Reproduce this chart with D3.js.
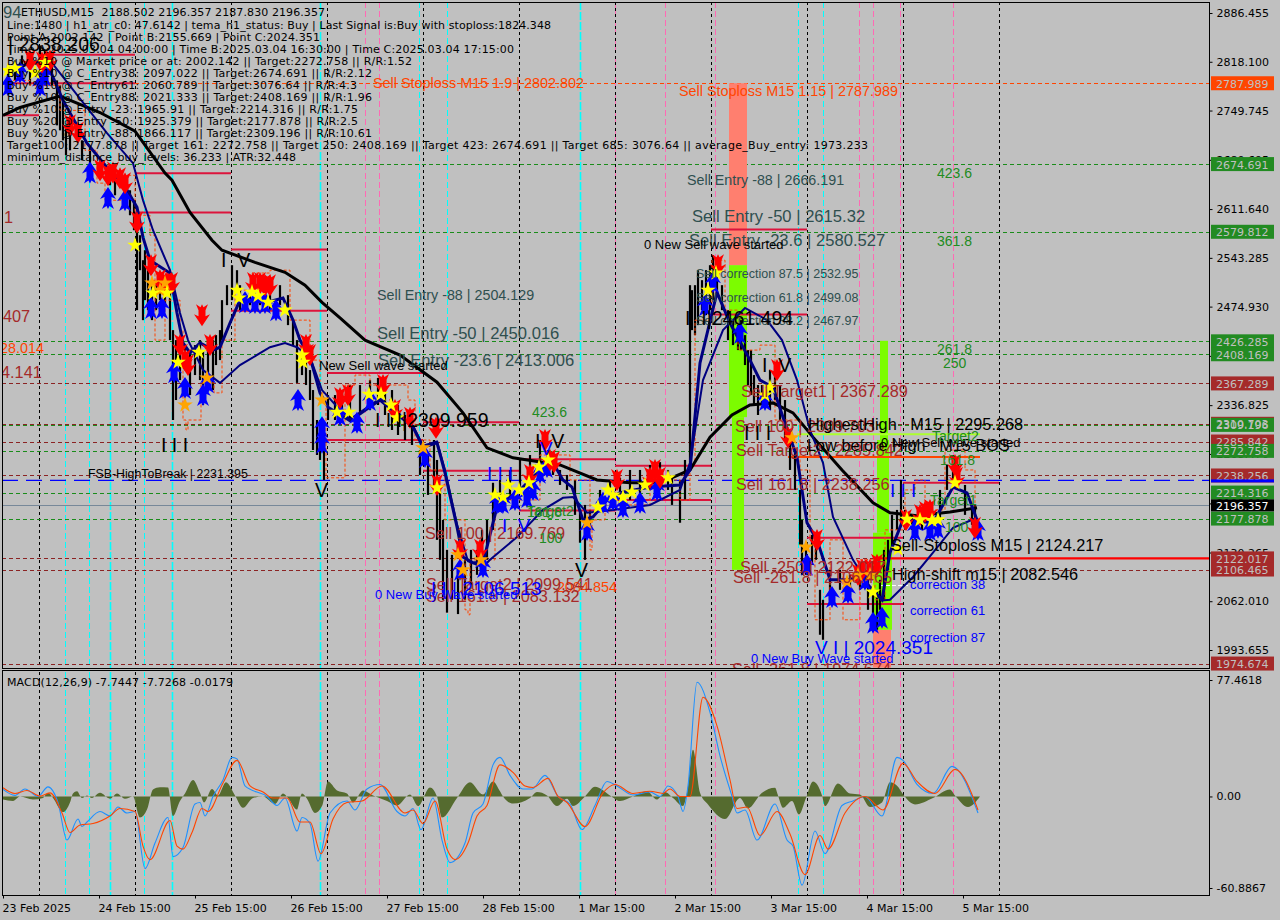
<!DOCTYPE html>
<html><head><meta charset="utf-8"><style>
html,body{margin:0;padding:0;background:#c0c0c0}svg{display:block}
</style><script src="https://cdn.jsdelivr.net/npm/d3@7"></script></head><body><svg id="c" width="1280" height="920"></svg>
<script>
const priceTicks=[2886.455,2818.100,2749.745,2680.695,2611.640,2543.285,2474.930,2405.875,2336.825,2268.470,2199.115,2130.265,2062.010,1993.655];
const macdTicks=[77.4618,0,-60.8867];
const macdTickLabels=["77.4618","0.00","-60.8867"];
const dateLabels=["23 Feb 2025","24 Feb 15:00","25 Feb 15:00","26 Feb 15:00","27 Feb 15:00","28 Feb 15:00","1 Mar 15:00","2 Mar 15:00","3 Mar 15:00","4 Mar 15:00","5 Mar 15:00"];
const dateBars=[0,96,192,288,384,480,576,672,768,864,960];
const daySeparators=[36,132,228,324,420,516,612,708,804,900,996];
const cyanLines=[[62,0],[86,0],[107,1],[141,0],[169,1],[317,1],[416,0],[444,0],[577,1],[795,0],[820,0]];
const pinkLines=[362,376,612,662,712,856,870,897,950];
const priceLabels=[[2787.989,"orange"],[2674.691,"green"],[2579.812,"green"],[2426.285,"green"],[2408.169,"green"],[2367.289,"brown"],[2310.703,"brown"],[2309.196,"green"],[2285.842,"brown"],[2272.758,"green"],[2238.256,"brown"],[2214.316,"green"],[2177.878,"green"],[2122.017,"brown"],[2106.465,"brown"],[1974.674,"brown"]];
const currentPrice=2196.357, breakLevel=2231.395;
const zoneRects=[[726,744,2787.989,2533,"salmon"],[726,744,2533,2320,"lime"],[729,741,2320,2106,"lime"],[870,888,2022,1969,"salmon"],[877,885,2427,2288,"lime"],[874,886,2288,2158,"lime"],[870,889,2158,2022,"lime"]];
const crimsonSegments=[[36,132,2828],[-1,132,2788],[-1,36,2743],[132,228,2662],[132,228,2607],[228,324,2555],[228,324,2469],[324,420,2382],[324,420,2288],[420,516,2313],[420,516,2245],[516,612,2261],[516,612,2189],[612,708,2252],[612,708,2204],[708,804,2583],[708,804,2464],[804,900,2151],[804,900,2058],[900,996,2228]];
const strongLevels=[[875,1206,2122.017,"#ff0000",2.4],[785,977,2264,"#ff4500",2],[794,977,2296,"#adff2f",2]];
const wicks=[[5,2813,2785],[12,2820,2792],[19,2827,2795],[27,2823,2785],[37,2841,2799],[42,2834,2792],[49,2827,2785],[54,2792,2729],[57,2785,2722],[60,2764,2708],[63,2729,2687],[67,2722,2694],[79,2708,2680],[87,2697,2673],[97,2680,2659],[107,2666,2645],[112,2659,2631],[122,2652,2624],[127,2638,2603],[131,2624,2582],[134,2582,2470],[137,2575,2526],[140,2540,2456],[142,2554,2484],[145,2526,2470],[149,2512,2456],[153,2505,2470],[157,2512,2484],[162,2505,2477],[167,2498,2428],[170,2442,2316],[173,2428,2344],[177,2428,2372],[182,2421,2386],[187,2414,2351],[192,2421,2379],[197,2428,2372],[200,2414,2337],[205,2428,2358],[210,2428,2358],[213,2435,2393],[217,2442,2400],[219,2484,2428],[224,2505,2477],[229,2533,2484],[234,2526,2498],[237,2505,2470],[247,2498,2477],[257,2505,2477],[267,2505,2470],[277,2505,2477],[285,2491,2449],[290,2456,2421],[294,2428,2368],[299,2414,2379],[303,2407,2365],[307,2386,2344],[310,2358,2274],[314,2316,2267],[317,2316,2260],[321,2295,2232],[325,2351,2316],[332,2351,2316],[339,2358,2330],[347,2365,2316],[357,2365,2323],[367,2372,2330],[375,2375,2337],[382,2372,2323],[389,2358,2302],[395,2337,2295],[402,2323,2288],[409,2309,2281],[417,2274,2239],[425,2267,2211],[431,2288,2218],[434,2260,2148],[437,2218,2120],[440,2176,2064],[444,2134,2046],[449,2127,2064],[455,2106,2044],[462,2120,2064],[468,2134,2085],[474,2134,2099],[479,2162,2113],[484,2176,2120],[490,2228,2162],[497,2232,2197],[507,2246,2204],[517,2260,2218],[527,2267,2232],[537,2288,2253],[545,2274,2246],[550,2267,2239],[557,2246,2225],[564,2239,2218],[572,2232,2183],[577,2190,2144],[582,2197,2120],[587,2190,2162],[597,2218,2190],[607,2232,2204],[617,2235,2197],[627,2246,2204],[637,2246,2211],[647,2253,2218],[657,2257,2218],[665,2246,2218],[669,2235,2197],[677,2232,2172],[682,2260,2204],[687,2505,2246],[689,2498,2442],[692,2505,2435],[695,2526,2449],[699,2512,2470],[703,2526,2463],[707,2533,2470],[710,2547,2484],[714,2540,2491],[719,2505,2470],[725,2470,2428],[730,2456,2421],[735,2449,2414],[738,2456,2414],[742,2435,2393],[745,2414,2365],[748,2414,2351],[751,2379,2337],[755,2365,2323],[759,2365,2337],[767,2386,2330],[772,2379,2344],[777,2365,2316],[782,2344,2288],[787,2302,2246],[792,2274,2218],[797,2218,2141],[799,2176,2099],[803,2141,2099],[809,2155,2113],[813,2141,2120],[817,2078,2015],[820,2064,2008],[827,2106,2064],[837,2106,2078],[847,2099,2071],[857,2099,2078],[865,2106,2050],[870,2078,2029],[874,2078,2022],[877,2092,2050],[881,2134,2064],[885,2148,2106],[889,2183,2134],[894,2190,2162],[898,2232,2169],[902,2190,2162],[909,2183,2162],[919,2190,2162],[929,2190,2162],[937,2218,2176],[944,2253,2218],[950,2267,2232],[955,2253,2218],[962,2225,2183],[969,2197,2169],[972,2197,2155]];
const slowAverage=[[0,2743],[17,2754],[57,2770],[97,2747],[132,2721],[162,2662],[169,2652],[187,2607],[209,2568],[219,2554],[252,2537],[282,2523],[302,2505],[319,2481],[337,2459],[362,2428],[397,2407],[434,2369],[460,2326],[484,2277],[510,2263],[557,2253],[594,2232],[627,2228],[657,2228],[687,2246],[707,2292],[729,2323],[747,2337],[770,2340],[790,2326],[810,2292],[839,2246],[870,2200],[887,2186],[914,2182],[947,2187],[974,2193]];
const fastTema=[[2,2806],[17,2812],[32,2817],[44,2816],[60,2764],[84,2704],[104,2670],[120,2648],[134,2614],[140,2572],[147,2540],[167,2522],[174,2466],[180,2424],[187,2410],[197,2424],[210,2414],[217,2418],[227,2452],[237,2484],[264,2481],[280,2487],[290,2456],[297,2428],[307,2404],[317,2354],[325,2334],[347,2315],[377,2344],[410,2306],[420,2278],[434,2284],[442,2242],[454,2166],[460,2124],[470,2116],[480,2116],[494,2194],[507,2208],[520,2222],[540,2250],[550,2256],[560,2232],[569,2222],[580,2176],[590,2180],[604,2204],[617,2214],[647,2222],[677,2225],[687,2246],[697,2396],[714,2495],[727,2452],[747,2400],[757,2372],[770,2362],[780,2320],[794,2264],[804,2172],[814,2148],[827,2092],[844,2092],[857,2095],[867,2082],[879,2064],[887,2130],[900,2176],[930,2172],[950,2222],[964,2214],[974,2176]];
const hourlyTema=[[47,2820],[104,2718],[130,2676],[140,2624],[150,2582],[167,2526],[177,2466],[185,2428],[200,2386],[217,2368],[237,2393],[267,2418],[282,2424],[294,2418],[307,2404],[319,2358],[337,2330],[347,2317],[377,2346],[410,2308],[420,2280],[434,2286],[442,2246],[454,2170],[465,2118],[480,2110],[487,2120],[514,2152],[540,2190],[560,2207],[570,2208],[584,2186],[610,2190],[647,2197],[677,2218],[687,2256],[700,2372],[720,2442],[742,2473],[764,2456],[779,2428],[794,2372],[807,2302],[820,2256],[830,2180],[850,2120],[867,2082],[879,2063],[887,2064],[910,2096],[930,2130],[950,2165],[974,2179]];
const stairLine=[[5,2792],[27,2785],[57,2750],[82,2694],[94,2648],[102,2624],[122,2659],[132,2603],[147,2575],[152,2428],[162,2484],[177,2442],[180,2316],[183,2302],[185,2316],[198,2368],[211,2354],[219,2428],[232,2498],[249,2522],[267,2526],[287,2456],[303,2456],[307,2400],[317,2354],[323,2235],[342,2365],[352,2379],[367,2365],[405,2344],[412,2288],[427,2246],[442,2176],[462,2050],[465,2043],[467,2120],[492,2204],[537,2267],[567,2232],[587,2134],[589,2176],[602,2197],[647,2232],[677,2204],[687,2260],[692,2456],[709,2540],[722,2470],[735,2414],[757,2421],[772,2316],[797,2246],[807,2148],[812,2036],[827,2148],[840,2036],[857,2120],[872,2064],[882,2162],[902,2218],[912,2232],[922,2190],[942,2274],[962,2246],[972,2190]];
const sellArrows=[[27,2820],[39,2817],[47,2820],[67,2729],[75,2719],[97,2666],[105,2659],[110,2663],[117,2655],[122,2648],[134,2593],[148,2533],[157,2512],[163,2508],[169,2508],[177,2421],[182,2400],[185,2393],[199,2463],[207,2421],[250,2508],[257,2508],[262,2505],[267,2505],[303,2421],[307,2407],[337,2347],[345,2351],[380,2365],[392,2330],[407,2319],[433,2305],[434,2225],[457,2134],[477,2134],[527,2239],[542,2288],[547,2260],[551,2257],[614,2232],[647,2235],[652,2246],[657,2235],[715,2533],[774,2386],[785,2292],[814,2148],[855,2099],[859,2106],[867,2106],[874,2113],[903,2176],[917,2183],[922,2187],[927,2190],[952,2253],[954,2235],[972,2165]];
const buyArrows=[[5,2785],[17,2803],[37,2785],[42,2799],[87,2663],[105,2627],[122,2624],[148,2473],[159,2473],[171,2383],[182,2361],[200,2351],[205,2369],[242,2481],[252,2480],[262,2480],[273,2470],[295,2344],[319,2306],[319,2284],[337,2323],[354,2312],[367,2344],[422,2264],[457,2106],[480,2110],[494,2200],[500,2200],[512,2204],[524,2208],[530,2218],[537,2242],[544,2250],[584,2162],[600,2200],[610,2204],[620,2194],[637,2200],[654,2218],[702,2477],[710,2509],[737,2438],[762,2344],[804,2113],[829,2068],[845,2074],[862,2092],[870,2032],[879,2039],[912,2162],[927,2162],[935,2165],[975,2162]];
const yellowStars=[[5,2806],[12,2809],[32,2803],[42,2817],[132,2561],[150,2494],[164,2494],[175,2397],[196,2411],[234,2498],[236,2487],[249,2495],[255,2490],[265,2481],[282,2470],[299,2407],[300,2397],[334,2327],[346,2327],[366,2352],[378,2352],[388,2337],[394,2319],[434,2221],[492,2211],[500,2208],[505,2225],[516,2218],[526,2228],[536,2250],[545,2260],[595,2194],[605,2218],[610,2211],[620,2208],[629,2215],[642,2225],[665,2235],[705,2498],[713,2522],[762,2351],[767,2362],[870,2075],[895,2135],[904,2177],[917,2176],[929,2175],[935,2176],[952,2228]];
const orangeStars=[[149,2508],[157,2498],[162,2508],[182,2337],[204,2375],[319,2344],[420,2277],[455,2127],[460,2106],[478,2120],[584,2172],[789,2291],[803,2138],[844,2089],[855,2099],[867,2099]];
const macdHistogram=[[0,-2],[10,-3],[17,0],[30,-2],[40,-1],[45,2.4],[50,-1],[60,-10.4],[67,-4],[70,2],[74,3.5],[79,-1],[84,.7],[89,-1],[97,2.4],[107,-1.5],[114,2],[122,-1.5],[130,0],[137,-14],[144,-8.7],[150,4.7],[157,6.2],[165,6],[170,-13],[177,-3],[182,2],[190,11],[197,2.4],[201,-4],[209,5],[215,.7],[223,9.5],[232,.7],[240,-7.5],[250,-1],[260,0],[272,-5],[280,2],[285,-1],[294,-8.7],[299,2],[304,-1.5],[312,-11],[319,-6.4],[325,10],[334,4],[344,2],[350,-4],[360,4],[370,.7],[384,-3],[394,-6],[407,1.3],[415,-6.4],[427,6],[434,0],[439,-14],[454,-1],[467,9.5],[480,1.3],[490,10],[497,3.5],[500,0],[510,-4.7],[527,-1],[534,3],[544,.7],[554,-6.4],[564,-1.5],[570,-6.4],[582,0],[592,6.4],[607,.7],[617,-3],[630,0],[644,3.5],[654,-2],[662,3],[670,-1],[680,-6.4],[684,2.4],[690,31],[697,2.4],[705,-5.3],[722,-15],[737,-1],[745,-8],[759,2.4],[772,5.8],[775,.7],[780,-7.5],[789,-3],[796,-12],[803,-1],[810,10],[819,.7],[822,-6.4],[835,8.7],[847,2],[857,1.3],[867,-7],[879,-4],[887,9.5],[895,6.4],[899,2.4],[912,-5.3],[930,-1],[947,4.7],[952,.7],[965,-7],[977,0]];
const macdMain=[[0,4.7],[12,.7],[22,5],[35,0],[45,6.4],[55,-4],[64,-29],[75,-15],[79,-20],[84,-17],[97,-10],[107,-13],[115,-7],[124,-11],[132,-10],[142,-48],[152,-31],[165,-14],[170,-40],[180,-34],[192,-5],[197,-4],[202,-13],[210,0],[220,11],[229,26],[234,25],[242,7],[264,0],[274,-6],[282,-1],[294,-23],[299,-14],[307,-18],[315,-43],[327,-11],[344,-3],[352,-9],[364,5],[377,8],[394,-10],[402,-13],[410,-8],[418,-22],[430,-1],[439,-29],[447,-44],[462,-31],[470,-11],[480,-5],[490,21],[497,26],[507,14],[520,5],[529,5],[542,14],[555,0],[567,-5],[579,-22],[592,-6],[604,10],[614,7],[630,1],[647,3],[657,0],[665,7],[675,0],[680,-10],[685,7],[694,76],[707,56],[717,27],[729,0],[734,-11],[742,-9],[754,-29],[772,-5],[784,-29],[790,-33],[799,-59],[812,-23],[822,-38],[839,-6],[850,-3],[862,0],[879,-13],[894,26],[900,24],[914,8],[930,2],[949,20],[975,-11]];
const macdSignal=[[0,5.8],[12,2],[24,4],[37,.2],[47,2.4],[59,-11],[67,-24],[77,-19],[90,-18],[107,-13],[117,-8],[132,-10],[140,-33],[147,-42],[167,-16],[174,-33],[180,-35],[189,-24],[199,-8],[205,-10],[220,9],[234,24],[247,7],[260,3],[270,-1],[284,-1],[297,-17],[307,-17],[318,-38],[330,-15],[344,-4],[359,-3],[379,7],[402,-11],[410,-9],[420,-18],[432,-3],[444,-35],[452,-42],[465,-31],[474,-13],[484,-6],[497,21],[510,16],[522,7],[530,6],[545,12],[555,0],[564,-4],[582,-20],[600,2.4],[612,8],[630,2],[647,3.5],[660,2],[667,5],[677,0],[687,0],[700,66],[714,47],[727,11],[734,-8],[744,-7],[757,-26],[774,-10],[787,-25],[802,-52],[817,-26],[825,-35],[842,-11],[862,0],[880,-9],[900,22],[914,10],[932,2],[952,18],[975,-9]];
const infoLines=["Line:1480 | h1_atr_c0: 47.6142 | tema_h1_status: Buy | Last Signal is:Buy with stoploss:1824.348","Point A:2002.142 | Point B:2155.669 | Point C:2024.351","Time A:2025.03.04 04:00:00 | Time B:2025.03.04 16:30:00 | Time C:2025.03.04 17:15:00","Buy %10 @ Market price or at: 2002.142 || Target:2272.758 || R/R:1.52","Buy %10 @ C_Entry38: 2097.022 || Target:2674.691 || R/R:2.12","Buy %10 @ C_Entry61: 2060.789 || Target:3076.64 || R/R:4.3","Buy %10 @ C_Entry88: 2021.333 || Target:2408.169 || R/R:1.96","Buy %10 @ Entry -23: 1965.91 || Target:2214.316 || R/R:1.75","Buy %20 @ Entry -50: 1925.379 || Target:2177.878 || R/R:2.5","Buy %20 @ Entry -88: 1866.117 || Target:2309.196 || R/R:10.61","Target100: 2177.878 || Target 161: 2272.758 || Target 250: 2408.169 || Target 423: 2674.691 || Target 685: 3076.64 || average_Buy_entry: 1973.233","minimum_distance_buy_levels: 36.233 | ATR:32.448"];
const chartTitle="ETHUSD,M15  2188.502 2196.357 2187.830 2196.357";
const macdTitle="MACD(12,26,9) -7.7447 -7.7268 -0.0179";
const chartLabels=[
["Sell Entry -50 | 2615.32",689,2593,"slate16"],["Sell Entry -23.6 | 2580.527",686,2560,"slate16"],["Sell Entry -50 | 2450.016",374,2429,"slate16"],["Sell Entry -23.6 | 2413.006",375,2392,"slate16"],
["Sell Entry -88 | 2666.191",684,2646,"slate14"],["Sell Entry -88 | 2504.129",374,2484,"slate14"],
["Sell correction 87.5 | 2532.95",693,2515,"slate12"],["Sell correction 61.8 | 2499.08",693,2481,"slate12"],["Sell correction 38.2 | 2467.97",693,2449,"slate12"],
["Sell Stoploss M15 1.9 | 2802.802",370,2782,"orange14"],["Sell Stoploss M15 1.15 | 2787.989",676,2770,"orange14"],["2084.854",554,2075,"orange14"],["28.014",-3,2410,"orange14"],
["Sell Target1 | 2367.289",738,2348,"brown16"],["Sell 100 | 2309.703",732,2299,"brown16"],["Sell Target2 | 2285.842",733,2266,"brown16"],["Sell 161.8 | 2238.256",733,2218,"brown16"],["Sell -250 | 2122.017",737,2102,"brown16"],["Sell -261.8 | 2106.465",730,2088,"brown16"],["Sell -261.8 | 1974.674",729,1958,"brown16"],["Sell 100 | 2169.769",422,2149,"brown16"],["Sell Target2 | 2099.541",423,2078,"brown16"],["Sell 161.8 | 2083.132",423,2061,"brown16"],["1",1,2592,"brown16"],["407",0,2453,"brown16"],["4.141",-2,2375,"brown16"],
["94",0,2879,"slate16"],
["HighestHigh   M15 | 2295.268",805,2302,"black16"],["Low before High   M15 BOS",804,2273,"black16"],["Sell-Stoploss M15 | 2124.217",888,2133,"black16"],["High-shift m15 | 2082.546",889,2092,"black16"],
["0 New Sell wave started",641,2555,"black13"],["0 New Sell wave started",878,2278,"black13"],["New Sell wave started",316,2386,"black13"],["FSB-HighToBreak | 2231.395",85,2235,"black12"],
["0 New Buy Wave started",372,2065,"blue13"],["0 New Buy Wave started",748,1976,"blue13"],["correction 38",907,2079,"blue13"],["correction 61",907,2043,"blue13"],["correction 87",907,2005,"blue13"],
["423.6",934,2655,"green14"],["361.8",934,2560,"green14"],["261.8",934,2408,"green14"],["250",940,2389,"green14"],["423.6",529,2320,"green14"],["Target2",524,2182,"green14"],["161.8",524,2180,"green14"],["100",536,2144,"green14"],["Target2",929,2287,"green14"],["161.8",937,2253,"green14"],["Target1",927,2197,"green14"],["100",942,2159,"green14"],
["| 2838.206",5,2833,"black20"],["I I I|2309.959",372,2306,"black20"],["I  I|2461.494",682,2449,"black20"],["I I I",158,2271,"black20"],["I  V",218,2530,"black20"],["V",312,2208,"black20"],["I  V",532,2277,"black20"],["V",572,2096,"black20"],["I  V",759,2383,"black20"],["I I I",741,2288,"black20"],
["I I I",484,2232,"blue20"],["I  V",499,2159,"blue20"],["V",537,2267,"blue20"],["I I | 2106.513",428,2071,"blue20"],["V I | 2024.351",812,1988,"blue20"],["I I I",887,2208,"blue20"]];

const infoWidths=[544,313,507,405,365,350,365,351,351,365,861,289];
const labelStyle={slate16:["#2f4f4f",16.6],slate14:["#2f4f4f",14.3],slate12:["#2f4f4f",12.5],orange14:["#ff4500",14.4],brown16:["#a52a2a",16.3],black16:["#000",16.3],black13:["#000",13],black12:["#000",12.3],blue13:["#0000ff",13],green14:["#228b22",14],black20:["#000",19.5],blue20:["#0000ff",19]};
const tagColor={orange:"#ff4500",green:"#228b22",brown:"#a52a2a"};
const zoneColor={salmon:"#ff7f6f",lime:"#7cfc00"};

const svg=d3.select("#c");
const x=d3.scaleLinear().domain([0,960]).range([3,963]);
const y=d3.scaleLinear().domain([1993.655,2886.455]).range([650,13]);
const my=d3.scaleLinear().domain([-60.8867,77.4618]).range([888,680]);
const L=2,R=1209,T=2,B=668,MT=672,MB=896;
const uiFont="'DejaVu Sans',sans-serif",artFont="'Liberation Sans',Arial,sans-serif";
const defs=svg.append("defs");
defs.append("clipPath").attr("id","mainClip").append("rect").attr("x",L).attr("y",T).attr("width",R-L).attr("height",B-T);
defs.append("clipPath").attr("id","macdClip").append("rect").attr("x",L).attr("y",MT).attr("width",R-L).attr("height",MB-MT);

function drawVerticals(g,y1,y2){
  g.selectAll("line.p").data(pinkLines).join("line").attr("class","p").attr("x1",d=>x(d)+.5).attr("x2",d=>x(d)+.5).attr("y1",y1).attr("y2",y2).attr("stroke","#ff69b4").attr("stroke-dasharray","6,3");
  g.selectAll("line.c").data(cyanLines).join("line").attr("class","c").attr("x1",d=>x(d[0])+.5).attr("x2",d=>x(d[0])+.5).attr("y1",y1).attr("y2",y2).attr("stroke","#00ffff").attr("stroke-width",d=>d[1]?1.6:1).attr("stroke-dasharray",d=>d[1]?"8,2":"6,3");
  g.selectAll("line.s").data(daySeparators).join("line").attr("class","s").attr("x1",d=>x(d)+.5).attr("x2",d=>x(d)+.5).attr("y1",y1).attr("y2",y2).attr("stroke","#000").attr("stroke-dasharray","3,3");
}
const main=svg.append("g").attr("clip-path","url(#mainClip)");
main.append("g").call(drawVerticals,T,B);

// horizontal levels
main.selectAll("line.lv").data(priceLabels).join("line").attr("class","lv").attr("x1",L).attr("x2",R).attr("y1",d=>Math.round(y(d[0]))+.5).attr("y2",d=>Math.round(y(d[0]))+.5).attr("stroke",d=>d[1]=="brown"?"#8b2323":d[1]=="green"?"#1a8c1a":tagColor[d[1]]).attr("stroke-dasharray","4,3");
main.append("line").attr("x1",L).attr("x2",R).attr("y1",Math.round(y(currentPrice))+.5).attr("y2",Math.round(y(currentPrice))+.5).attr("stroke","#778899");
main.append("line").attr("x1",L).attr("x2",R).attr("y1",y(breakLevel)).attr("y2",y(breakLevel)).attr("stroke","#0000ff").attr("stroke-width",1.4).attr("stroke-dasharray","16,8");

// zones
main.selectAll("rect.z").data(zoneRects).join("rect").attr("class","z").attr("x",d=>x(d[0])).attr("width",d=>x(d[1])-x(d[0])).attr("y",d=>y(d[2])).attr("height",d=>y(d[3])-y(d[2])).attr("fill",d=>zoneColor[d[4]]);

// levels with thick strokes
main.selectAll("line.seg").data(crimsonSegments).join("line").attr("class","seg").attr("x1",d=>x(d[0])).attr("x2",d=>x(d[1])).attr("y1",d=>y(d[2])).attr("y2",d=>y(d[2])).attr("stroke","#dc143c").attr("stroke-width",2);
main.selectAll("line.st").data(strongLevels).join("line").attr("class","st").attr("x1",d=>x(d[0])).attr("x2",d=>x(d[1])).attr("y1",d=>y(d[2])).attr("y2",d=>y(d[2])).attr("stroke",d=>d[3]).attr("stroke-width",d=>d[4]);
main.append("line").attr("x1",x(877)).attr("x2",x(907)).attr("y1",y(2084)).attr("y2",y(2084)).attr("stroke","#fff").attr("stroke-dasharray","4,2");

// wicks
main.selectAll("line.w").data(wicks).join("line").attr("class","w").attr("x1",d=>x(d[0])).attr("x2",d=>x(d[0])).attr("y1",d=>y(d[1])).attr("y2",d=>y(d[2])).attr("stroke","#000").attr("stroke-width",2.2);

const ln=d3.line().x(d=>x(d[0])).y(d=>y(d[1]));
main.append("path").attr("d",ln.curve(d3.curveStepAfter)(stairLine)).attr("fill","none").attr("stroke","#ff4500").attr("stroke-dasharray","3,2");
ln.curve(d3.curveLinear);
main.append("path").attr("d",ln(slowAverage)).attr("fill","none").attr("stroke","#000").attr("stroke-width",3);
main.append("path").attr("d",ln(hourlyTema)).attr("fill","none").attr("stroke","#000080").attr("stroke-width",2);
main.append("path").attr("d",ln(fastTema)).attr("fill","none").attr("stroke","#000080").attr("stroke-width",3);

// arrows
const arrowUp="M0,-11L8,1L3.5,-1L3.5,5L6,11L1.5,8L0,11L-1.5,8L-6,11L-3.5,5L-3.5,-1L-8,1Z";
const arrowDown="M0,11L8,-1L3.5,1L3.5,-5L6,-11L1.5,-8L0,-11L-1.5,-8L-6,-11L-3.5,-5L-3.5,1L-8,-1Z";
main.selectAll("path.bu").data(buyArrows).join("path").attr("class","bu").attr("d",arrowUp).attr("fill","#0000ff").attr("transform",d=>`translate(${x(d[0])},${y(d[1])})`);
main.selectAll("path.se").data(sellArrows).join("path").attr("class","se").attr("d",arrowDown).attr("fill","#ff0000").attr("transform",d=>`translate(${x(d[0])},${y(d[1])})`);
const star=d3.symbol().type(d3.symbolStar).size(75)();
main.selectAll("path.os").data(orangeStars).join("path").attr("class","os").attr("d",star).attr("fill","#ffa500").attr("transform",d=>`translate(${x(d[0])},${y(d[1])})`);
main.selectAll("path.ys").data(yellowStars).join("path").attr("class","ys").attr("d",star).attr("fill","#ffff00").attr("transform",d=>`translate(${x(d[0])},${y(d[1])})`);

// floating labels
main.selectAll("text.a").data(chartLabels).join("text").attr("class","a").attr("x",d=>x(d[1])).attr("y",d=>y(d[2])).text(d=>d[0]).style("white-space","pre").attr("font-family",artFont).attr("font-size",d=>labelStyle[d[3]][1]).attr("fill",d=>labelStyle[d[3]][0]);

// info block
main.append("text").attr("x",21).attr("y",16).text(chartTitle).style("white-space","pre").attr("font-family",uiFont).attr("font-size",11).attr("fill","#000").attr("textLength",304).attr("lengthAdjust","spacing");
main.selectAll("text.i").data(infoLines).join("text").attr("class","i").attr("x",7).attr("y",(d,i)=>29+i*12).text(d=>d).attr("font-family",uiFont).attr("font-size",11).attr("fill","#000").attr("textLength",(d,i)=>infoWidths[i]).attr("lengthAdjust","spacing");

// macd
const mg=svg.append("g").attr("clip-path","url(#macdClip)");
mg.append("g").call(drawVerticals,MT,MB);
mg.append("path").attr("d",d3.area().x(d=>x(d[0])).y0(my(0)).y1(d=>my(d[1])).curve(d3.curveMonotoneX)(macdHistogram)).attr("fill","#556b2f");
const ml=d3.line().x(d=>x(d[0])).y(d=>my(d[1])).curve(d3.curveMonotoneX);
mg.append("path").attr("d",ml(macdMain)).attr("fill","none").attr("stroke","#1e90ff").attr("stroke-width",1.1);
mg.append("path").attr("d",ml(macdSignal)).attr("fill","none").attr("stroke","#ff4500").attr("stroke-width",1.1);
svg.append("text").attr("x",7).attr("y",686).text(macdTitle).attr("font-family",uiFont).attr("font-size",11).attr("fill","#000").attr("textLength",226).attr("lengthAdjust","spacing");

// frames
svg.append("rect").attr("x",2.5).attr("y",2.5).attr("width",R-2).attr("height",B-2).attr("fill","none").attr("stroke","#000");
svg.append("rect").attr("x",2.5).attr("y",MT-1.5).attr("width",R-2).attr("height",MB-MT+1).attr("fill","none").attr("stroke","#000");

// right axes
const axisG=svg.append("g");
axisG.call(d3.axisRight(y).tickValues(priceTicks).tickFormat(d3.format(".3f")).tickSize(3).tickPadding(4)).attr("transform",`translate(${R+.5},0)`);
axisG.select(".domain").remove();
axisG.selectAll("text").attr("font-family",uiFont).attr("font-size",11).attr("fill","#000");
axisG.selectAll("line").attr("stroke","#000");
const maxis=svg.append("g").attr("transform",`translate(${R+.5},0)`).call(d3.axisRight(my).tickValues(macdTicks).tickFormat((d,i)=>macdTickLabels[i]).tickSize(3).tickPadding(4));
maxis.select(".domain").remove();
maxis.selectAll("text").attr("font-family",uiFont).attr("font-size",11).attr("fill","#000");
maxis.selectAll("line").attr("stroke","#000");

// price tags
const tags=svg.append("g");
tags.selectAll("rect").data(priceLabels).join("rect").attr("x",R+2).attr("width",63).attr("y",d=>y(d[0])-7).attr("height",14).attr("fill",d=>tagColor[d[1]]);
tags.selectAll("g.t").data(priceLabels).join("text").attr("x",R+7).attr("y",d=>y(d[0])+4.5).text(d=>d[0].toFixed(3)).attr("font-family",uiFont).attr("font-size",11).attr("fill","#c0c0c0");
tags.append("rect").attr("x",R+2).attr("width",63).attr("y",y(breakLevel)-1).attr("height",3).attr("fill","#0000ff");
tags.append("rect").attr("x",R+2).attr("width",63).attr("y",y(currentPrice)-6).attr("height",12).attr("fill","#000");
tags.append("text").attr("x",R+7).attr("y",y(currentPrice)+4.5).text(currentPrice.toFixed(3)).attr("font-family",uiFont).attr("font-size",11).attr("fill","#fff");

// time axis
const tAxis=svg.append("g").attr("transform",`translate(0,${MB-.5})`).call(d3.axisBottom(x).tickValues(dateBars).tickFormat((d,i)=>dateLabels[i]).tickSize(3).tickPadding(6));
tAxis.select(".domain").remove();
tAxis.selectAll("line").attr("stroke","#000");
tAxis.selectAll("text").attr("text-anchor","start").attr("dx",-1).attr("font-family",uiFont).attr("font-size",11).attr("fill","#000");
</script></body></html>
